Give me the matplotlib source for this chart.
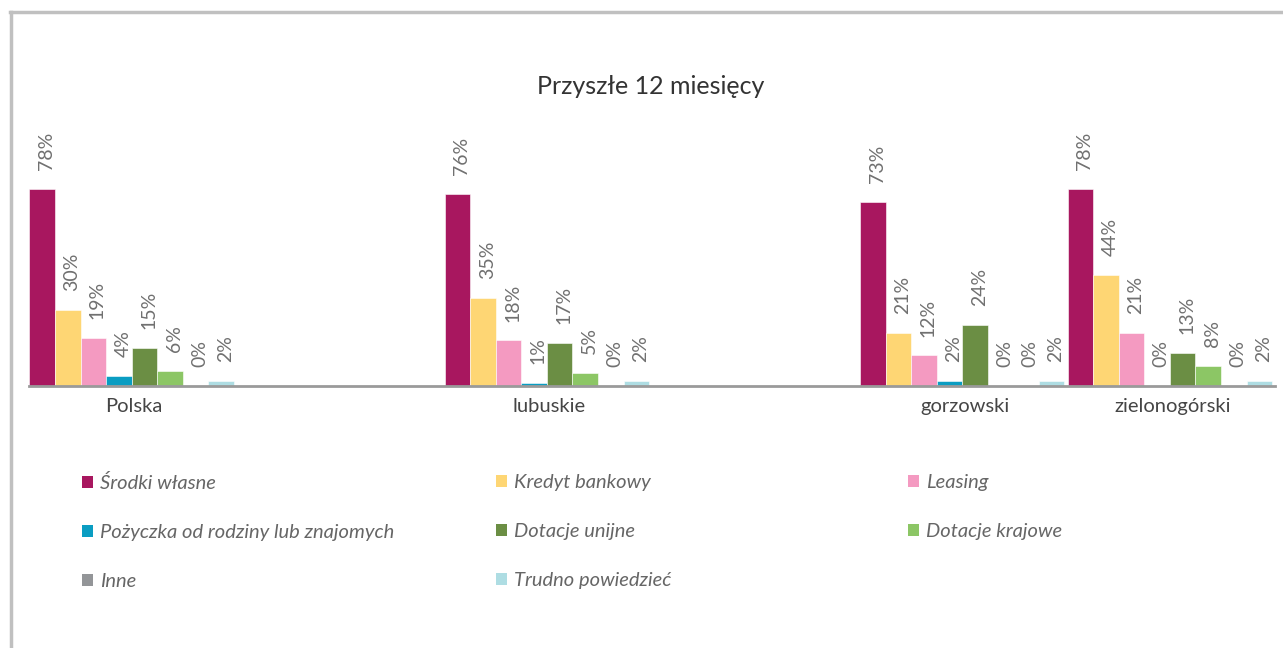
import matplotlib
matplotlib.use("Agg")
import matplotlib.pyplot as plt
from matplotlib.lines import Line2D
from matplotlib.patches import Patch
import numpy as np

plt.rcParams['font.family'] = ['Lato', 'DejaVu Sans']

# data
regions = ["Polska", "lubuskie", "gorzowski", "zielonogórski"]
region_pos = [0, 2, 4, 5]
series = ["Środki własne", "Kredyt bankowy", "Leasing",
          "Pożyczka od rodziny lub znajomych", "Dotacje unijne",
          "Dotacje krajowe", "Inne", "Trudno powiedzieć"]
values = [
    [78, 76, 73, 78],   # Środki własne
    [30, 35, 21, 44],   # Kredyt bankowy
    [19, 18, 12, 21],   # Leasing
    [4, 1, 2, 0],       # Pożyczka
    [15, 17, 24, 13],   # Dotacje unijne
    [6, 5, 0, 8],       # Dotacje krajowe
    [0, 0, 0, 0],       # Inne
    [2, 2, 2, 2],       # Trudno powiedzieć
]
colors = ["#A8175F", "#FED674", "#F49AC1", "#0A9DC2",
          "#6B8E44", "#8CC665", "#939598", "#AEDDE3"]

fig = plt.figure(figsize=(12.83, 6.48), dpi=100)
ax = fig.add_axes([29/1283, 1 - 385.7/648, (1275 - 29)/1283, 252/648])

w = 0.123
x = np.array(region_pos, dtype=float)
for i, (name, vals, col) in enumerate(zip(series, values, colors)):
    xs = x - 0.503 + w*(i + 0.5)
    ax.bar(xs, vals, width=w, color=col, edgecolor="white", linewidth=0.4, label=name)
    for xi, v in zip(xs, vals):
        ax.annotate(f"{v}%", (xi, v), xytext=(3, 13.5), textcoords="offset points",
                    rotation=90, ha="center", va="bottom", fontsize=14,
                    color="#707070", annotation_clip=False)

ax.set_xlim(-0.505, 5.495)
ax.set_ylim(0, 100)
ax.set_yticks([])
ax.set_xticks(x)
ax.set_xticklabels(regions, fontsize=14.5, color="#454545")
ax.tick_params(axis="x", length=0, pad=9)
for s in ["top", "left", "right"]:
    ax.spines[s].set_visible(False)
ax.spines["bottom"].set_color("#9a9a9a")
ax.spines["bottom"].set_linewidth(2)
ax.patch.set_alpha(0)

fig.text(651/1283, 1 - 87/648, "Przyszłe 12 miesięcy", ha="center", va="center",
         fontsize=18, color="#333333")

# legend in three fixed columns, filled row by row
cols = [[0, 3, 6], [1, 4, 7], [2, 5]]
col_x = [82/1283, 496/1283, 908/1283]
for cx, idx in zip(col_x, cols):
    handles = [Patch(facecolor=colors[k], edgecolor="none") for k in idx]
    labels = [series[k] for k in idx]
    leg = fig.legend(handles, labels, loc="upper left", bbox_to_anchor=(cx, 1 - 474/648),
                     frameon=False, fontsize=14.5, handlelength=0.55, handleheight=0.55,
                     handletextpad=0.35, labelspacing=1.6, borderaxespad=0, borderpad=0)
    for t in leg.get_texts():
        t.set_color("#666666")
        t.set_style("italic")

# frame lines
fig.add_artist(Line2D([10/1283, 1], [1 - 12/648, 1 - 12/648], color="#c0c0c0", linewidth=2.5))
fig.add_artist(Line2D([11/1283, 11/1283], [0, 1 - 12/648], color="#c0c0c0", linewidth=2.5))

fig.savefig("out.png", dpi=100)
